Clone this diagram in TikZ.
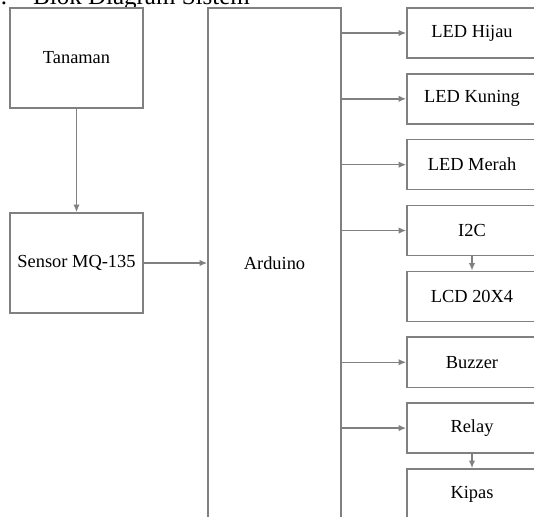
\documentclass[tikz,border=0pt]{standalone}
\usepackage{fontspec}
\setmainfont{Liberation Serif}
\usetikzlibrary{positioning,arrows.meta}
\definecolor{garis}{RGB}{128,128,128}
\tikzset{
  blok/.style={draw=garis, line width=0.75pt, fill=white,
    font=\fontsize{9.2}{11}\selectfont, inner sep=0pt,
    align=center, minimum width=66.5pt, minimum height=50pt},
  blokkanan/.style={blok, minimum width=65pt, minimum height=25pt},
  panah/.style={draw=garis, line width=0.75pt,
    -{Latex[length=3.8pt,width=3.2pt]}},
}

\begin{document}
\begin{tikzpicture}[x=0.5pt, y=-0.5pt]
  \useasboundingbox (0,0) rectangle (534,517);
  % judul (terpotong di atas)
  \node[anchor=base west, font=\fontsize{12.5}{14}\selectfont, inner sep=0pt]
    at (-12,4.5) (judul) {2.\hspace{13pt}Blok Diagram Sistem};
  % Kolom kiri: input
  \node[blok] at (76.5,58)  (tanaman) {Tanaman};
  \node[blok] at (76.5,263) (sensor)  {Sensor MQ-135};
  % Kolom tengah: mikrokontroler
  \node[blok, minimum height=255pt] at (274.5,263) (ardu) {Arduino};
  % Kolom kanan: output
  \node[blokkanan] at (472,33)     (hijau)  {LED Hijau};
  \node[blokkanan] at (472,98.85)  (kuning) {LED Kuning};
  \node[blokkanan] at (472,164.7)  (merah)  {LED Merah};
  \node[blokkanan] at (472,230.55) (i2c)    {I2C};
  \node[blokkanan] at (472,296.4)  (lcd)    {LCD 20X4};
  \node[blokkanan] at (472,362.25) (buzzer) {Buzzer};
  \node[blokkanan] at (472,428.1)  (relay)  {Relay};
  \node[blokkanan] at (472,493.95) (kipas)  {Kipas};
  % Panah
  \draw[panah] (tanaman) -- (sensor);
  \draw[panah] (sensor) -- (sensor -| ardu.west);
  \foreach \n in {hijau,kuning,merah,i2c,buzzer,relay}
    \draw[panah] (ardu.east |- \n.west) -- (\n.west);
  \draw[panah] (i2c)   -- (lcd);
  \draw[panah] (relay) -- (kipas);
\end{tikzpicture}
\end{document}
